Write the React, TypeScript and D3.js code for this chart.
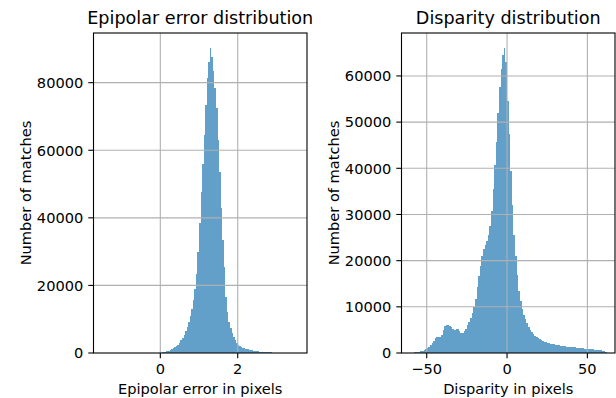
import React, { useEffect, useRef } from "react";
import * as d3 from "d3";

const W = 616;
const H = 398;

// epipolar error histogram: bins of 0.04 px starting at 0
const epiStart = 0;
const epiBin = 0.04;
const epiCounts = [
  80, 150, 250, 380, 520, 680, 870, 1100, 1400, 1700,
  2050, 2500, 3000, 3700, 4500, 5400, 6400, 7800, 9300, 11000,
  13000, 15800, 18800, 23500, 30000, 38500, 47500, 56000, 64500, 73500,
  81500, 86000, 90200, 87500, 83500, 78500, 72500, 63000, 53500, 43000,
  33500, 25500, 16500, 12000, 9300, 7300, 5800, 4600, 3700, 3000,
  2500, 2150, 1850, 1600, 1400, 1250, 1120, 1000, 900, 800,
  700, 620, 550, 480, 420, 370, 320, 280, 240, 210,
  180, 150, 130, 110, 90, 75, 60, 50, 40, 30,
];
const epiXDomain = [-1.726, 3.79];
const epiYMax = 94700;
const epiXTicks = [0, 2];
const epiYTicks = [0, 20000, 40000, 60000, 80000];

// disparity histogram: bins of 1 px starting at -60
const dispStart = -60;
const dispBin = 1;
const dispCounts = [
  60, 90, 130, 180, 240, 320, 420, 540, 680, 850,
  1050, 1300, 1650, 2100, 2700, 3300, 3450, 3400, 3450, 4000,
  4900, 5800, 6150, 6100, 5950, 5600, 5250, 5050, 5300, 5150,
  4750, 4400, 4350, 4700, 5200, 6000, 6800, 7600, 8700, 10000,
  11800, 14200, 16600, 18800, 21000, 22500, 23300, 24200, 25500, 27500,
  30800, 35500, 40800, 45800, 52000, 57500, 61500, 64500, 66000, 63000,
  54500, 47500, 39500, 32000, 25500, 21000, 17000, 13500, 11200, 9500,
  8300, 7300, 6400, 5700, 5000, 4500, 4100, 3750, 3450, 3200,
  3000, 2800, 2600, 2450, 2300, 2200, 2100, 2000, 1920, 1850,
  1780, 1720, 1660, 1600, 1550, 1500, 1450, 1400, 1360, 1320,
  1280, 1240, 1200, 1160, 1120, 1080, 1040, 1000, 960, 920,
  880, 840, 800, 760, 720, 680, 640, 600, 560, 500,
  420, 300,
];
const dispXDomain = [-65.7, 67.2];
const dispYMax = 69300;
const dispXTicks = [-50, 0, 50];
const dispYTicks = [0, 10000, 20000, 30000, 40000, 50000, 60000];

const FONT = "DejaVu Sans";
const fmt = (d) => (d < 0 ? "\u2212" + Math.abs(d) : String(d));

function drawHist(svg, o) {
  const { left, right, top, bottom } = o;
  const x = d3.scaleLinear().domain(o.xDomain).range([left, right]);
  const y = d3.scaleLinear().domain([0, o.yMax]).range([bottom, top]);
  const g = svg.append("g");

  // bars
  g.append("g")
    .selectAll("rect")
    .data(o.counts)
    .enter()
    .append("rect")
    .attr("x", (d, i) => x(o.start + i * o.bin))
    .attr("width", (d, i) => x(o.start + (i + 1) * o.bin) - x(o.start + i * o.bin))
    .attr("y", (d) => y(d))
    .attr("height", (d) => bottom - y(d))
    .attr("fill", "#1f77b4")
    .attr("fill-opacity", 0.7)
    .attr("shape-rendering", "crispEdges");

  // grid on top of the bars (matplotlib default)
  g.append("g")
    .selectAll("line")
    .data(o.xTicks)
    .enter()
    .append("line")
    .attr("x1", (d) => x(d))
    .attr("x2", (d) => x(d))
    .attr("y1", top)
    .attr("y2", bottom)
    .attr("stroke", "#b0b0b0")
    .attr("stroke-width", 1.1);
  g.append("g")
    .selectAll("line")
    .data(o.yTicks.filter((d) => d > 0))
    .enter()
    .append("line")
    .attr("x1", left)
    .attr("x2", right)
    .attr("y1", (d) => y(d))
    .attr("y2", (d) => y(d))
    .attr("stroke", "#b0b0b0")
    .attr("stroke-width", 1.1);

  // spines
  g.append("rect")
    .attr("x", left)
    .attr("y", top)
    .attr("width", right - left)
    .attr("height", bottom - top)
    .attr("fill", "none")
    .attr("stroke", "#000")
    .attr("stroke-width", 1.1);

  // ticks
  const xt = g.append("g").selectAll("g").data(o.xTicks).enter().append("g");
  xt.append("line")
    .attr("x1", (d) => x(d))
    .attr("x2", (d) => x(d))
    .attr("y1", bottom)
    .attr("y2", bottom + 5.2)
    .attr("stroke", "#000")
    .attr("stroke-width", 1.1);
  xt.append("text")
    .attr("x", (d) => x(d))
    .attr("y", bottom + 21.3)
    .attr("text-anchor", "middle")
    .style("font-family", FONT)
    .style("font-size", "14.6px")
    .text(fmt);

  const yt = g.append("g").selectAll("g").data(o.yTicks).enter().append("g");
  yt.append("line")
    .attr("x1", left - 5.2)
    .attr("x2", left)
    .attr("y1", (d) => y(d))
    .attr("y2", (d) => y(d))
    .attr("stroke", "#000")
    .attr("stroke-width", 1.1);
  yt.append("text")
    .attr("x", left - 10.2)
    .attr("y", (d) => y(d) + 5.3)
    .attr("text-anchor", "end")
    .style("font-family", FONT)
    .style("font-size", "14.6px")
    .text(fmt);

  // title and labels
  g.append("text")
    .attr("x", (left + right) / 2)
    .attr("y", top - 8.8)
    .attr("text-anchor", "middle")
    .style("font-family", FONT)
    .style("font-size", "17.6px")
    .text(o.title);
  g.append("text")
    .attr("x", (left + right) / 2)
    .attr("y", 393.5)
    .attr("text-anchor", "middle")
    .style("font-family", FONT)
    .style("font-size", "14.6px")
    .text(o.xLabel);
  g.append("text")
    .attr("transform", `translate(${o.yLabelX},${(top + bottom) / 2}) rotate(-90)`)
    .attr("text-anchor", "middle")
    .style("font-family", FONT)
    .style("font-size", "14.6px")
    .text("Number of matches");
}

export default function App() {
  const ref = useRef(null);
  useEffect(() => {
    const svg = d3.select(ref.current);
    svg.selectAll("*").remove();
    drawHist(svg, {
      left: 93.5, right: 307, top: 33, bottom: 353,
      xDomain: epiXDomain, yMax: epiYMax,
      start: epiStart, bin: epiBin, counts: epiCounts,
      xTicks: epiXTicks, yTicks: epiYTicks,
      title: "Epipolar error distribution",
      xLabel: "Epipolar error in pixels",
      yLabelX: 31,
    });
    drawHist(svg, {
      left: 401.5, right: 615, top: 33, bottom: 353,
      xDomain: dispXDomain, yMax: dispYMax,
      start: dispStart, bin: dispBin, counts: dispCounts,
      xTicks: dispXTicks, yTicks: dispYTicks,
      title: "Disparity distribution",
      xLabel: "Disparity in pixels",
      yLabelX: 338.5,
    });
  }, []);

  return (
    <svg
      ref={ref}
      width={W}
      height={H}
      style={{ position: "absolute", left: 0, top: 0, background: "#fff" }}
    />
  );
}
